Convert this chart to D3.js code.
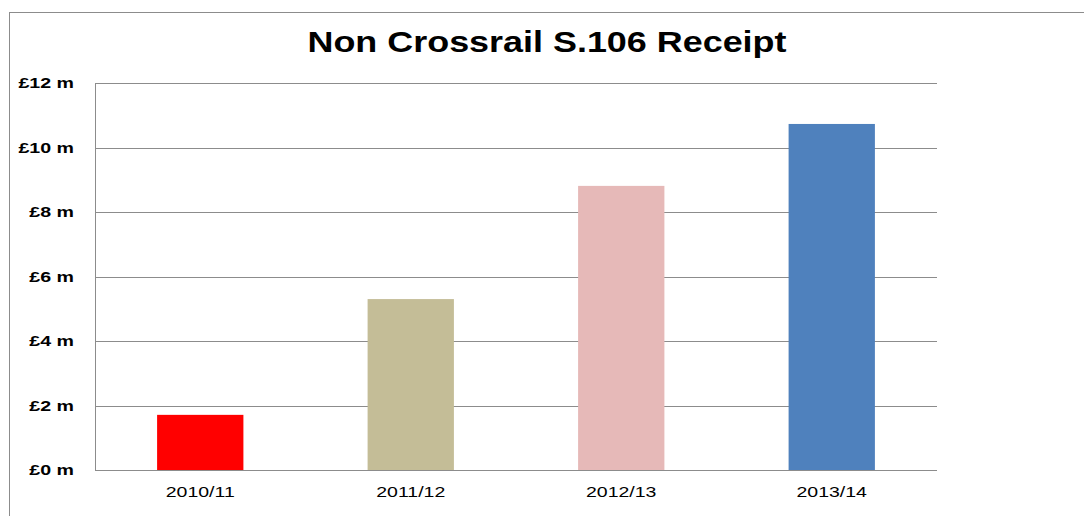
<!DOCTYPE html>
<html>
<head>
<meta charset="utf-8">
<script src="https://cdn.jsdelivr.net/npm/d3@7"></script>
<style>
  html, body { margin: 0; padding: 0; background: #fff; }
  svg { display: block; }
  text { font-family: "Liberation Sans", Arial, sans-serif; fill: #000; }
</style>
</head>
<body>
<svg id="chart" width="1084" height="516"></svg>
<script>
const categories = ["2010/11", "2011/12", "2012/13", "2013/14"];
const values = [1.71, 5.30, 8.81, 10.73];
const colors = ["#FF0000", "#C4BD97", "#E6B9B8", "#4F81BD"];
const yTicks = [0, 2, 4, 6, 8, 10, 12];
const yTickLabels = ["£0 m", "£2 m", "£4 m", "£6 m", "£8 m", "£10 m", "£12 m"];
const title = "Non Crossrail S.106 Receipt";

const svg = d3.select("#chart");
const W = 1084, H = 516;
const m = { left: 95, right: 147, top: 83, bottom: 46 };

// outer border
svg.append("rect")
  .attr("x", 9.5).attr("y", 12.5)
  .attr("width", W + 10).attr("height", H + 10)
  .attr("fill", "none").attr("stroke", "#8c8c8c").attr("stroke-width", 1);

const x = d3.scaleBand().domain(categories)
  .range([m.left, W - m.right]).paddingInner(0.59).paddingOuter(0.295);
const y = d3.scaleLinear().domain([0, 12]).range([H - m.bottom, m.top]);

// gridlines
svg.append("g").selectAll("line").data(yTicks).join("line")
  .attr("x1", m.left).attr("x2", W - m.right)
  .attr("y1", d => Math.round(y(d)) + 0.5).attr("y2", d => Math.round(y(d)) + 0.5)
  .attr("stroke", "#8c8c8c").attr("stroke-width", 1);

// left axis line
svg.append("line")
  .attr("x1", m.left + 0.5).attr("x2", m.left + 0.5)
  .attr("y1", y(12)).attr("y2", y(0))
  .attr("stroke", "#8c8c8c");

// bars
svg.append("g").selectAll("rect").data(values).join("rect")
  .attr("x", (d, i) => x(categories[i]))
  .attr("width", x.bandwidth())
  .attr("y", d => y(d))
  .attr("height", d => y(0) - y(d))
  .attr("fill", (d, i) => colors[i]);

// y tick labels
const yl = svg.append("g").selectAll("text").data(yTicks).join("text")
  .attr("x", 74).attr("y", d => y(d) + 5)
  .attr("text-anchor", "end")
  .attr("font-size", 14).attr("font-weight", "bold")
  .text((d, i) => yTickLabels[i]);
yl.each(function() {
  const w = this.getComputedTextLength();
  d3.select(this).attr("textLength", w * 1.4).attr("lengthAdjust", "spacingAndGlyphs");
});

// x labels
const xl = svg.append("g").selectAll("text").data(categories).join("text")
  .attr("x", d => x(d) + x.bandwidth() / 2).attr("y", 497)
  .attr("text-anchor", "middle")
  .attr("font-size", 15)
  .text(d => d);
xl.each(function() {
  const w = this.getComputedTextLength();
  d3.select(this).attr("textLength", w * 1.3).attr("lengthAdjust", "spacingAndGlyphs");
});

// title
const t = svg.append("text")
  .attr("x", 547).attr("y", 52)
  .attr("text-anchor", "middle")
  .attr("font-size", 30).attr("font-weight", "bold")
  .text(title);
t.attr("textLength", 479).attr("lengthAdjust", "spacingAndGlyphs");
</script>
</body>
</html>
